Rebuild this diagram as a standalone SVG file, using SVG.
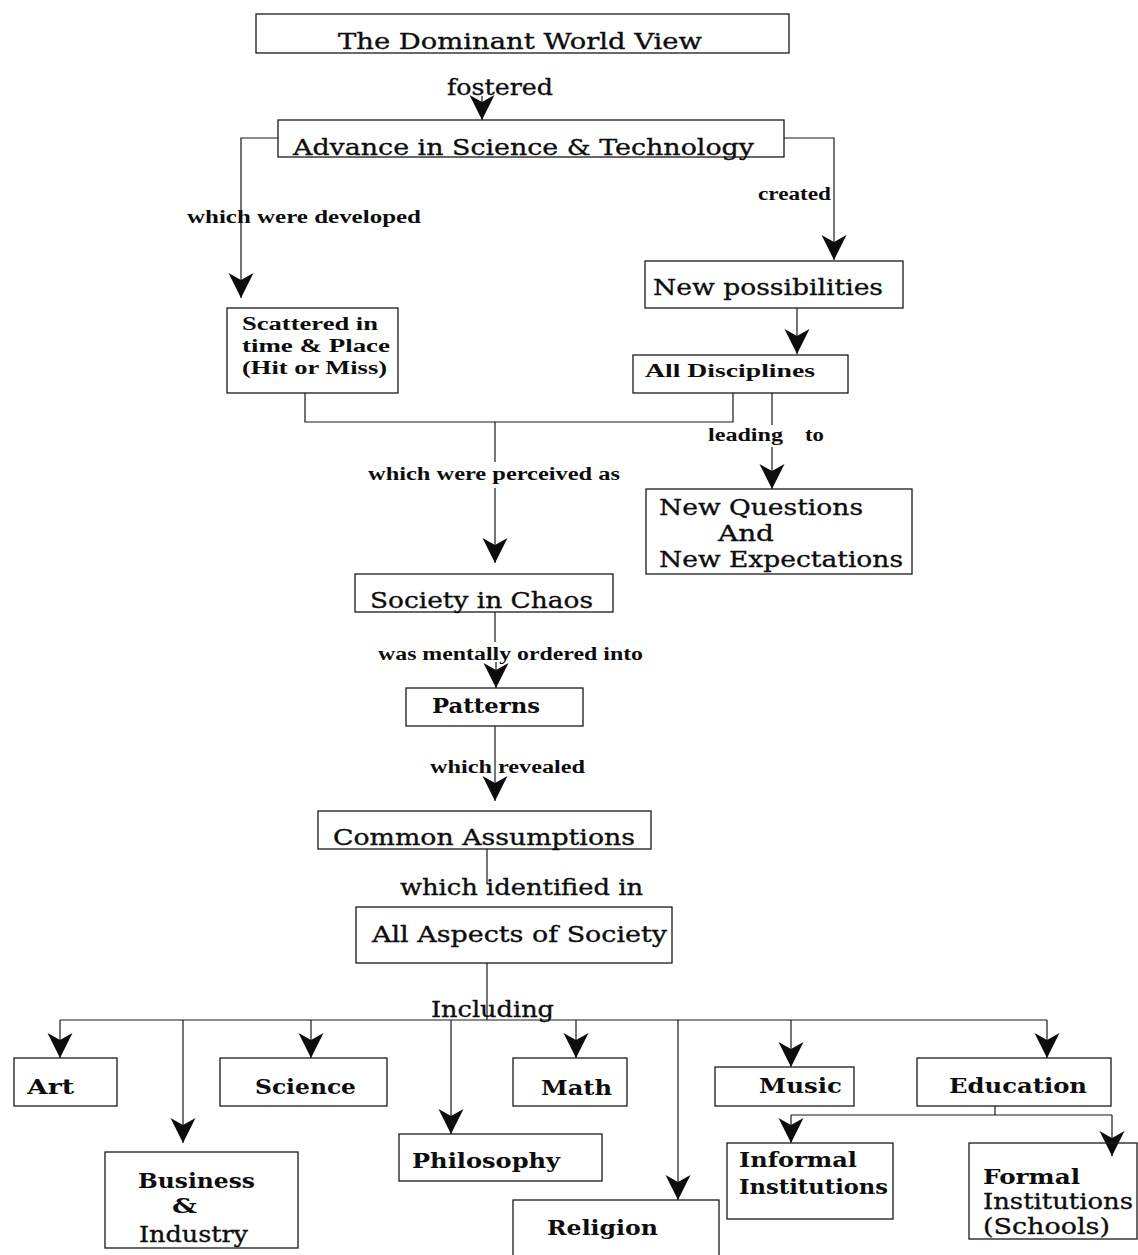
<svg xmlns="http://www.w3.org/2000/svg" width="1138" height="1255" viewBox="0 0 1138 1255">
<style>
  .box { fill: none; stroke: #1a1a1a; stroke-width: 1.3; }
  .con { fill: none; stroke: #1a1a1a; stroke-width: 1.2; }
  .arr { marker-end: url(#ah); }
  text { fill: #0d0d0d; font-family: "DejaVu Serif", "Liberation Serif", serif; }
  .lbl { font-family: "Liberation Serif", "DejaVu Serif", serif; font-weight: bold; font-size: 18px; }
  .reg { font-size: 23px; stroke: #0d0d0d; stroke-width: 0.35; }
  .bd { font-size: 21px; font-weight: bold; }
</style>
<defs>
  <marker id="ah" markerUnits="userSpaceOnUse" markerWidth="28" markerHeight="28" viewBox="-26 -14 28 28" refX="0" refY="0" orient="auto">
    <path d="M0,0 L-25,-12.5 L-18,0 L-25,12.5 Z" fill="#0d0d0d"/>
  </marker>
</defs>
<rect width="1138" height="1255" fill="#ffffff"/>

<g id="connectors">
  <path class="con arr" d="M482,96 V120"/>
  <path class="con arr" d="M278,138 H241 V298"/>
  <path class="con arr" d="M784,138 H834 V260"/>
  <path class="con arr" d="M797,308 V354"/>
  <path class="con" d="M305,393 V422 H733 V393"/>
  <path class="con" d="M495,422 V462"/>
  <path class="con arr" d="M495,488 V563"/>
  <path class="con" d="M772,393 V425"/>
  <path class="con arr" d="M772,447 V489"/>
  <path class="con" d="M495,612 V642"/>
  <path class="con arr" d="M496,662 V688"/>
  <path class="con arr" d="M495,726 V801"/>
  <path class="con" d="M487,849 V884"/>
  <path class="con" d="M487,963 V1020"/>
  <path class="con" d="M60,1020 H1047"/>
  <path class="con arr" d="M60,1020 V1058"/>
  <path class="con arr" d="M183,1020 V1143"/>
  <path class="con arr" d="M311,1020 V1058"/>
  <path class="con arr" d="M451,1020 V1134"/>
  <path class="con arr" d="M576,1020 V1058"/>
  <path class="con arr" d="M678,1020 V1200"/>
  <path class="con arr" d="M791,1020 V1067"/>
  <path class="con arr" d="M1047,1020 V1058"/>
  <path class="con" d="M995,1106 V1115 M791,1115 H1112"/>
  <path class="con arr" d="M791,1115 V1143"/>
  <path class="con arr" d="M1112,1115 V1156"/>
</g>

<g id="edge-labels">
  <text class="reg" x="447" y="95" textLength="106" lengthAdjust="spacingAndGlyphs" font-size="22">fostered</text>
  <text class="lbl" x="187" y="223" textLength="234" lengthAdjust="spacingAndGlyphs">which were developed</text>
  <text class="lbl" x="758" y="200" textLength="73" lengthAdjust="spacingAndGlyphs">created</text>
  <text class="lbl" x="368" y="480" textLength="252" lengthAdjust="spacingAndGlyphs">which were perceived as</text>
  <text class="lbl" x="708" y="441" textLength="75" lengthAdjust="spacingAndGlyphs">leading</text>
  <text class="lbl" x="805" y="441" textLength="19" lengthAdjust="spacingAndGlyphs">to</text>
  <text class="lbl" x="378" y="660" textLength="265" lengthAdjust="spacingAndGlyphs">was mentally ordered into</text>
  <text class="lbl" x="430" y="773" textLength="155" lengthAdjust="spacingAndGlyphs">which revealed</text>
  <text class="reg" x="400" y="895" font-size="21" textLength="243" lengthAdjust="spacingAndGlyphs">which identified in</text>
  <text class="reg" x="431" y="1017" font-size="21" textLength="123" lengthAdjust="spacingAndGlyphs">Including</text>
</g>

<g id="node-worldview">
  <rect class="box" x="256" y="14" width="533" height="39"/>
  <text class="reg" x="338" y="49" textLength="364" lengthAdjust="spacingAndGlyphs">The Dominant World View</text>
</g>
<g id="node-advance">
  <rect class="box" x="278" y="120" width="506" height="37"/>
  <text class="reg" x="293" y="155" textLength="461" lengthAdjust="spacingAndGlyphs">Advance in Science &amp; Technology</text>
</g>
<g id="node-newposs">
  <rect class="box" x="645" y="261" width="258" height="47"/>
  <text class="reg" x="653" y="295" textLength="230" lengthAdjust="spacingAndGlyphs">New possibilities</text>
</g>
<g id="node-scattered">
  <rect class="box" x="227" y="308" width="171" height="85"/>
  <text class="lbl" x="242" y="330" font-size="20" textLength="136" lengthAdjust="spacingAndGlyphs">Scattered in</text>
  <text class="lbl" x="242" y="352" font-size="20" textLength="148" lengthAdjust="spacingAndGlyphs">time &amp; Place</text>
  <text class="lbl" x="242" y="374" font-size="20" textLength="145" lengthAdjust="spacingAndGlyphs">(Hit or Miss)</text>
</g>
<g id="node-alldisc">
  <rect class="box" x="633" y="355" width="215" height="38"/>
  <text class="lbl" x="645" y="377" font-size="20" textLength="170" lengthAdjust="spacingAndGlyphs">All Disciplines</text>
</g>
<g id="node-newq">
  <rect class="box" x="646" y="489" width="266" height="85"/>
  <text class="reg" x="659" y="515" font-size="22" textLength="204" lengthAdjust="spacingAndGlyphs">New Questions</text>
  <text class="reg" x="718" y="541" font-size="22" textLength="56" lengthAdjust="spacingAndGlyphs">And</text>
  <text class="reg" x="659" y="567" font-size="22" textLength="244" lengthAdjust="spacingAndGlyphs">New Expectations</text>
</g>
<g id="node-society">
  <rect class="box" x="355" y="574" width="258" height="38"/>
  <text class="reg" x="370" y="608" font-size="22" textLength="223" lengthAdjust="spacingAndGlyphs">Society in Chaos</text>
</g>
<g id="node-patterns">
  <rect class="box" x="406" y="688" width="177" height="38"/>
  <text class="bd" x="432" y="713" font-size="20" textLength="108" lengthAdjust="spacingAndGlyphs">Patterns</text>
</g>
<g id="node-common">
  <rect class="box" x="318" y="811" width="333" height="38"/>
  <text class="reg" x="333" y="845" font-size="22" textLength="302" lengthAdjust="spacingAndGlyphs">Common Assumptions</text>
</g>
<g id="node-allaspects">
  <rect class="box" x="356" y="907" width="316" height="56"/>
  <text class="reg" x="372" y="942" textLength="295" lengthAdjust="spacingAndGlyphs">All Aspects of Society</text>
</g>
<g id="node-art">
  <rect class="box" x="14" y="1058" width="103" height="48"/>
  <text class="bd" x="27" y="1094" textLength="47" lengthAdjust="spacingAndGlyphs">Art</text>
</g>
<g id="node-business">
  <rect class="box" x="105" y="1152" width="193" height="96"/>
  <text class="bd" x="138" y="1188" textLength="117" lengthAdjust="spacingAndGlyphs">Business</text>
  <text class="bd" x="172" y="1213" textLength="25" lengthAdjust="spacingAndGlyphs">&amp;</text>
  <text class="reg" x="139" y="1242" font-size="21" textLength="109" lengthAdjust="spacingAndGlyphs">Industry</text>
</g>
<g id="node-science">
  <rect class="box" x="220" y="1058" width="167" height="48"/>
  <text class="bd" x="255" y="1094" textLength="101" lengthAdjust="spacingAndGlyphs">Science</text>
</g>
<g id="node-philosophy">
  <rect class="box" x="399" y="1134" width="203" height="47"/>
  <text class="bd" x="412" y="1168" textLength="148" lengthAdjust="spacingAndGlyphs">Philosophy</text>
</g>
<g id="node-math">
  <rect class="box" x="513" y="1058" width="114" height="48"/>
  <text class="bd" x="541" y="1095" textLength="71" lengthAdjust="spacingAndGlyphs">Math</text>
</g>
<g id="node-religion">
  <rect class="box" x="513" y="1200" width="206" height="70"/>
  <text class="bd" x="547" y="1235" textLength="111" lengthAdjust="spacingAndGlyphs">Religion</text>
</g>
<g id="node-music">
  <rect class="box" x="715" y="1067" width="139" height="39"/>
  <text class="bd" x="759" y="1093" textLength="83" lengthAdjust="spacingAndGlyphs">Music</text>
</g>
<g id="node-education">
  <rect class="box" x="917" y="1058" width="194" height="48"/>
  <text class="bd" x="949" y="1093" textLength="138" lengthAdjust="spacingAndGlyphs">Education</text>
</g>
<g id="node-informal">
  <rect class="box" x="727" y="1143" width="166" height="76"/>
  <text class="bd" x="739" y="1167" textLength="118" lengthAdjust="spacingAndGlyphs">Informal</text>
  <text class="bd" x="739" y="1194" textLength="149" lengthAdjust="spacingAndGlyphs">Institutions</text>
</g>
<g id="node-formal">
  <rect class="box" x="969" y="1143" width="168" height="96"/>
  <text class="bd" x="983" y="1184" font-size="20" textLength="97" lengthAdjust="spacingAndGlyphs">Formal</text>
  <text class="reg" x="983" y="1209" font-size="20" textLength="150" lengthAdjust="spacingAndGlyphs">Institutions</text>
  <text class="reg" x="983" y="1234" font-size="20" textLength="127" lengthAdjust="spacingAndGlyphs">(Schools)</text>
</g>
</svg>
